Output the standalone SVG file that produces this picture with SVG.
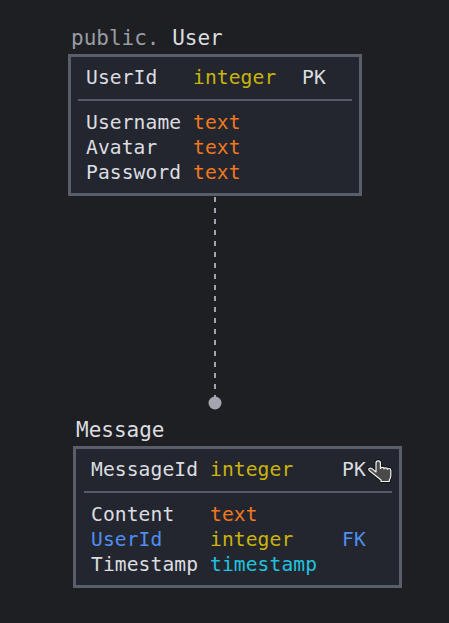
<svg xmlns="http://www.w3.org/2000/svg" width="449" height="623" viewBox="0 0 449 623">
<style>
text{font-family:"DejaVu Sans Mono","Liberation Mono",monospace;font-size:19.6px;letter-spacing:0.1px;fill:#dcdde0}
.title{font-size:21px;letter-spacing:0}
.schema{fill:#9a9ca4}
.box{fill:#23262e;stroke:#5a5e6a;stroke-width:3}
.div{stroke:#555a65;stroke-width:2}
.int{fill:#cbb40a}
.txt{fill:#f0781e}
.ts{fill:#20c2df}
.fk{fill:#4f8df0}
</style>
<defs>
<path id="hand" d="M376,472 V463 Q376,460.8 378.2,460.8 Q380.4,460.8 380.4,463 V468.5 Q380.7,467.3 382.2,467.3 Q384,467.3 384,468.8 Q384.3,467.8 385.7,467.8 Q387.4,467.8 387.4,469.3 Q387.7,468.5 389,468.5 Q390.8,468.5 390.8,470.3 V475.5 Q390.8,478 389.3,480 V481.5 H381 V480 L369.5,470.8 Q368,469.4 369.3,468.5 Q370.6,467.8 372,468.8 Z"/>
</defs>
<rect width="449" height="623" fill="#1e1f23"/>
<g id="connectors">
<line x1="215" y1="197" x2="215" y2="400" stroke="#a3a6ae" stroke-width="2" stroke-dasharray="5 6"/>
<circle cx="215" cy="403" r="6.5" fill="#a3a6ae"/>
</g>
<g id="User">
<text class="title" x="71" y="45"><tspan class="schema">public.</tspan> User</text>
<rect class="box" x="69.5" y="55.5" width="291" height="139"/>
<line class="div" x1="78" y1="100" x2="352" y2="100"/>
<text x="86" y="84">UserId</text><text class="int" x="193" y="84">integer</text><text x="302" y="84">PK</text>
<text x="86" y="129">Username</text><text class="txt" x="193" y="129">text</text>
<text x="86" y="154">Avatar</text><text class="txt" x="193" y="154">text</text>
<text x="86" y="179">Password</text><text class="txt" x="193" y="179">text</text>
</g>
<g id="Message">
<text class="title" x="76" y="437">Message</text>
<rect class="box" x="74.5" y="447.5" width="326" height="139"/>
<line class="div" x1="84" y1="492" x2="392" y2="492"/>
<text x="91" y="476">MessageId</text><text class="int" x="210" y="476">integer</text><text x="342" y="476">PK</text>
<text x="91" y="521">Content</text><text class="txt" x="210" y="521">text</text>
<text class="fk" x="91" y="546">UserId</text><text class="int" x="210" y="546">integer</text><text class="fk" x="342" y="546">FK</text>
<text x="91" y="571">Timestamp</text><text class="ts" x="210" y="571">timestamp</text>
</g>
<g id="cursor">
<use href="#hand" fill="none" stroke="#111" stroke-width="3" stroke-linejoin="round"/>
<use href="#hand" fill="#4a4a4a" stroke="#f2f2f2" stroke-width="1.2" stroke-linejoin="round"/>
</g>
</svg>
